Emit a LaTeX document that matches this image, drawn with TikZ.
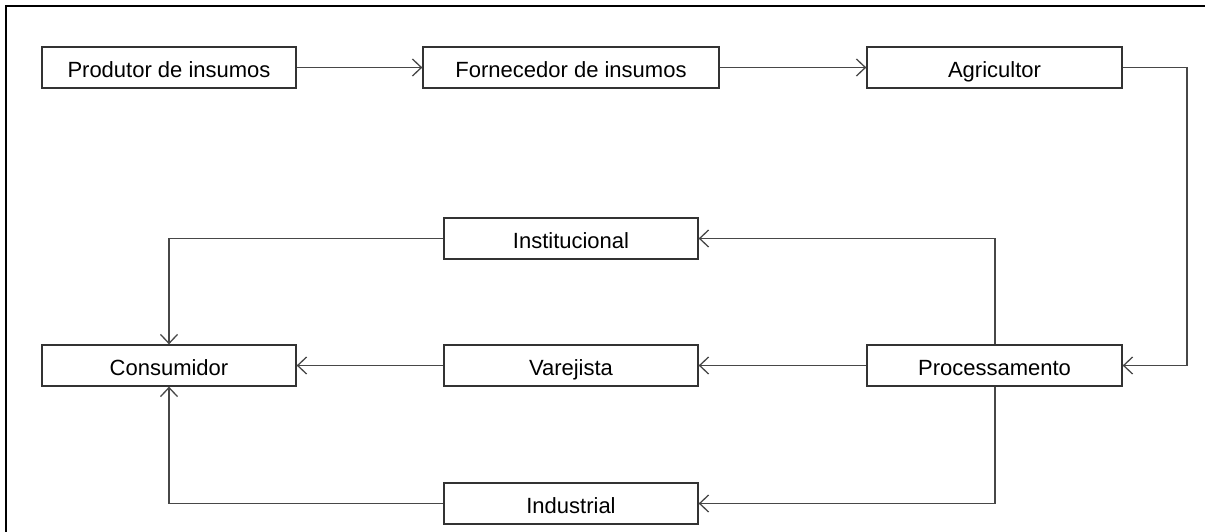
\documentclass[tikz,border=0pt]{standalone}
\usepackage{fontspec}
\setmainfont{Liberation Sans}
\usetikzlibrary{arrows.meta}
\begin{document}
\begin{tikzpicture}[x=1pt,y=-1pt,
  box/.style={draw=black!80, line width=1.3pt, fill=white, inner sep=0pt, text height=23.5pt, text depth=4pt, font=\fontsize{22}{26}\selectfont},
  conn/.style={draw=black!72, line width=1.3pt, -{Straight Barb[length=9pt,width=17pt,line width=1.3pt]}}]
\useasboundingbox (0,0) rectangle (1205,532);
\clip (0,0) rectangle (1205,532);
\draw[line width=2pt] (1210,6) -- (6,6) -- (6,540);
\node[box, minimum width=254pt, minimum height=41pt] (prod) at (169,67.5) {Produtor de insumos};
\node[box, minimum width=296pt, minimum height=41pt] (forn) at (571,67.5) {Fornecedor de insumos};
\node[box, minimum width=255pt, minimum height=41pt] (agri) at (994.5,67.5) {Agricultor};
\node[box, minimum width=254pt, minimum height=41pt] (inst) at (571,238.5) {Institucional};
\node[box, minimum width=254pt, minimum height=41pt] (cons) at (169,365.5) {Consumidor};
\node[box, minimum width=254pt, minimum height=41pt] (vare) at (571,365.5) {Varejista};
\node[box, minimum width=255pt, minimum height=41pt] (proc) at (994.5,365.5) {Processamento};
\node[box, minimum width=254pt, minimum height=41pt] (indu) at (571,503.5) {Industrial};
\coordinate (c1) at (1187,67.5);
\coordinate (c2) at (1187,365.5);
\draw[conn] (prod.east) -- (forn.west);
\draw[conn] (forn.east) -- (agri.west);
\draw[conn] (agri.east) -- (c1) -- (c2) -- (proc.east);
\draw[conn] (proc.north -| 995,0) |- (inst.east);
\draw[conn] (inst.west) -| (cons.north);
\draw[conn] (proc.west) -- (vare.east);
\draw[conn] (vare.west) -- (cons.east);
\draw[conn] (proc.south -| 995,0) |- (indu.east);
\draw[conn] (indu.west) -| (cons.south);
\end{tikzpicture}
\end{document}
